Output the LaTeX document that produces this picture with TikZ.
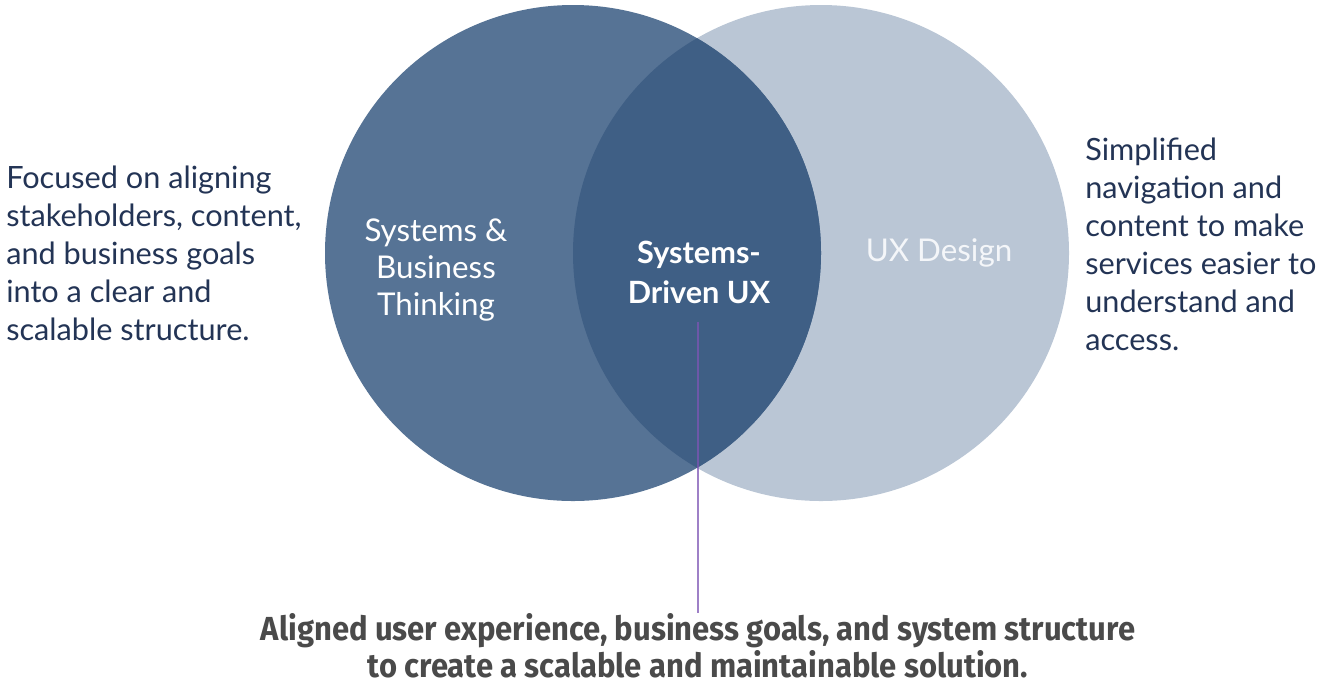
\documentclass[tikz,border=0pt]{standalone}
\usepackage{fontspec}
\setmainfont{Lato}
\newfontfamily\outcomefont[FakeStretch=0.93]{Fira Sans}
\usetikzlibrary{positioning}

\definecolor{thinkblue}{RGB}{86,115,149}
\definecolor{uxblue}{RGB}{186,198,213}
\definecolor{lensblue}{RGB}{63,95,133}
\definecolor{inkblue}{RGB}{35,52,85}
\definecolor{outgray}{RGB}{74,74,74}
\definecolor{linkpurple}{RGB}{125,85,180}
\definecolor{softwhite}{RGB}{244,246,249}

\begin{document}
\begin{tikzpicture}[
    x=0.75pt, y=-0.75pt,
    thinking/.style={fill=thinkblue},
    design/.style={fill=uxblue},
    overlap/.style={fill=lensblue},
    circlelabel/.style={text=white, align=center, font=\fontsize{23.5}{28}\selectfont},
    sidetext/.style={text=inkblue, align=left, inner sep=0pt, anchor=north west,
        font=\fontsize{23}{28.5}\selectfont},
    link/.style={line width=1.1pt, draw=linkpurple, draw opacity=0.75}
]
    \useasboundingbox (0,0) rectangle (1327,687);

    % Venn circles
    \fill[design] (821,253) circle[radius=186pt];
    \fill[thinking] (573,253) circle[radius=186pt];
    \begin{scope}
        \clip (573,253) circle[radius=186pt];
        \fill[overlap] (821,253) circle[radius=186pt];
    \end{scope}

    % Circle labels
    \node[circlelabel] (thinkinglabel) at (436,270) {Systems \&\\Business\\Thinking};
    \node[circlelabel, font=\bfseries\fontsize{23}{30}\selectfont] (corelabel) at (699,272) {Systems-\\Driven UX};
    \node[circlelabel, text=softwhite] (designlabel) at (939,253) {UX Design};

    % Side notes
    \node[sidetext] (thinkingnote) at (6,166) {Focused on aligning\\stakeholders, content,\\and business goals\\into a clear and\\scalable structure.};
    \node[sidetext] (designnote) at (1085,138) {Simplified\\navigation and\\content to make\\services easier to\\understand and\\access.};

    % Outcome
    \node[anchor=north, inner sep=0pt, align=center, text=outgray,
        font=\outcomefont\bfseries\fontsize{25}{28}\selectfont] (outcome) at (698,613)
        {Aligned user experience, business goals, and system structure\\to create a scalable and maintainable solution.};
    \coordinate (stem) at (698,322);
    \draw[link] (stem) -- (outcome.north);
\end{tikzpicture}
\end{document}
